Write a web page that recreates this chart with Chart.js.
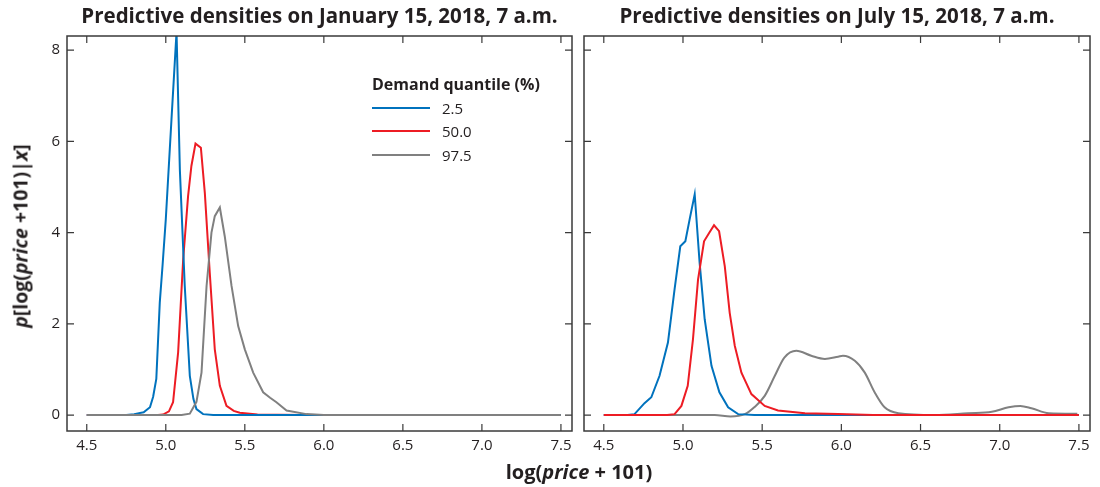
<!DOCTYPE html>
<html>
<head>
<meta charset="utf-8">
<script src="https://cdn.jsdelivr.net/npm/chart.js@4"></script>
<style>
  body { margin: 0; background: #fff; font-family: 'Open Sans', sans-serif; color: #231f20; }
  #wrap { position: relative; width: 1100px; height: 487px; overflow: hidden; }
  .box { position: absolute; top: 0; height: 465px; }
  #ylab { position: absolute; left: 20px; top: 236px; transform: translate(-50%, -50%) rotate(-90deg); white-space: nowrap; font-weight: bold; font-size: 19.5px; }
  #xlab { position: absolute; left: 579px; top: 471px; transform: translate(-50%, -50%); white-space: nowrap; font-weight: bold; font-size: 20px; }
  #legend { position: absolute; left: 372px; top: 73px; font-size: 15px; }
  #legend .ttl { font-weight: bold; font-size: 16px; margin-bottom: 1px; }
  #legend .row { display: flex; align-items: center; height: 23.5px; }
  #legend .ln { width: 58px; border-top: 2px solid; margin-right: 12px; }
</style>
</head>
<body>
<div id="wrap">
  <div class="box" style="left:0;width:580px"><canvas id="jan"></canvas></div>
  <div class="box" style="left:576px;width:524px"><canvas id="jul"></canvas></div>
  <div id="ylab"><i>p</i>[log(<i>price</i> +101)|<i>x</i>]</div>
  <div id="xlab">log(<i>price</i> + 101)</div>
  <div id="legend"></div>
</div>
<script>
'use strict';

// quantile labels and colours
let quantiles = ['2.5', '50.0', '97.5'];
let colors = ['rgb(0,114,189)', 'rgb(237,28,36)', 'rgb(128,128,128)'];
let xTicks = [4.5, 5.0, 5.5, 6.0, 6.5, 7.0, 7.5];
let yTicks = [0, 2, 4, 6, 8];

// January 15, 2018
let janBlueX = [4.5, 4.75, 4.80, 4.86, 4.9, 4.92, 4.94, 4.962, 4.98, 5.0, 5.036, 5.068, 5.089, 5.12, 5.152, 5.175, 5.194, 5.236, 5.3, 7.5];
let janBlueY = [0, 0, 0.02, 0.06, 0.17, 0.4, 0.79, 2.47, 3.3, 4.29, 6.48, 8.4, 5.38, 2.83, 0.86, 0.35, 0.13, 0.02, 0, 0];
let janRedX = [4.5, 4.95, 4.983, 5.02, 5.046, 5.078, 5.11, 5.141, 5.162, 5.188, 5.222, 5.247, 5.278, 5.31, 5.342, 5.384, 5.43, 5.468, 5.58, 5.7, 5.9, 7.5];
let janRedY = [0, 0, 0.01, 0.08, 0.28, 1.37, 3.41, 4.8, 5.46, 5.95, 5.86, 4.87, 3.13, 1.44, 0.64, 0.2, 0.09, 0.05, 0.01, 0.005, 0, 0];
let janGrayX = [4.5, 5.1, 5.152, 5.194, 5.226, 5.258, 5.289, 5.31, 5.342, 5.373, 5.416, 5.458, 5.5, 5.553, 5.616, 5.66, 5.70, 5.764, 5.89, 6.0, 7.5];
let janGrayY = [0, 0, 0.03, 0.29, 0.93, 2.83, 4.0, 4.36, 4.55, 3.92, 2.83, 1.95, 1.44, 0.93, 0.5, 0.38, 0.28, 0.1, 0.02, 0, 0];

// July 15, 2018
let julBlueX = [4.5, 4.65, 4.694, 4.757, 4.80, 4.852, 4.905, 4.947, 4.983, 5.015, 5.042, 5.074, 5.105, 5.137, 5.18, 5.23, 5.285, 5.348, 5.45, 7.5];
let julBlueY = [0, 0, 0.02, 0.26, 0.39, 0.86, 1.59, 2.76, 3.7, 3.81, 4.29, 4.84, 3.34, 2.1, 1.08, 0.5, 0.17, 0.02, 0, 0];
let julRedX = [4.5, 4.9, 4.947, 4.99, 5.03, 5.063, 5.095, 5.133, 5.165, 5.196, 5.228, 5.264, 5.295, 5.327, 5.369, 5.432, 5.516, 5.60, 5.77, 5.98, 6.2, 7.5];
let julRedY = [0, 0, 0.02, 0.2, 0.64, 1.66, 2.97, 3.81, 3.99, 4.16, 4.03, 3.26, 2.24, 1.52, 0.93, 0.46, 0.2, 0.1, 0.04, 0.02, 0, 0];
let julGrayX = [4.5, 5.2, 5.30, 5.39, 5.45, 5.516, 5.58, 5.64, 5.716, 5.81, 5.896, 5.98, 6.01, 6.085, 6.148, 6.21, 6.273, 6.36, 6.59, 6.80, 6.95, 7.056, 7.13, 7.20, 7.31, 7.49];
let julGrayY = [0, 0, -0.03, 0.02, 0.17, 0.42, 0.86, 1.26, 1.41, 1.3, 1.23, 1.28, 1.30, 1.19, 0.93, 0.5, 0.17, 0.04, 0.0, 0.04, 0.07, 0.17, 0.2, 0.15, 0.04, 0.03];

function toPoints(xs, ys){
  let pts = [];
  for(let i = 0; i < xs.length; i++){
    pts.push({x: xs[i], y: ys[i]});
  }
  return pts;
}

function makeSet(i, xs, ys, smooth, order){
  return {
    label: quantiles[i],
    data: toPoints(xs, ys),
    borderColor: colors[i],
    borderWidth: 2,
    pointRadius: 0,
    fill: false,
    tension: 0,
    cubicInterpolationMode: smooth ? 'monotone' : 'default',
    order: order
  };
}

// box round the plot and inward tick marks on all four sides
let frame = {
  id: 'frame',
  afterDraw(chart){
    let ctx = chart.ctx;
    let a = chart.chartArea;
    let sx = chart.scales.x;
    let sy = chart.scales.y;
    let tl = 7;
    ctx.save();
    ctx.strokeStyle = '#3a3a3a';
    ctx.lineWidth = 1.5;
    ctx.strokeRect(a.left, a.top, a.right - a.left, a.bottom - a.top);
    ctx.lineWidth = 1.2;
    ctx.beginPath();
    for(let v of xTicks){
      let px = sx.getPixelForValue(v);
      ctx.moveTo(px, a.bottom); ctx.lineTo(px, a.bottom - tl);
      ctx.moveTo(px, a.top); ctx.lineTo(px, a.top + tl);
    }
    for(let v of yTicks){
      let py = sy.getPixelForValue(v);
      ctx.moveTo(a.left, py); ctx.lineTo(a.left + tl, py);
      ctx.moveTo(a.right, py); ctx.lineTo(a.right - tl, py);
    }
    ctx.stroke();
    ctx.restore();
  }
};

function makeChart(id, title, sets, showY, yWidth, padRight){
  return new Chart(document.getElementById(id), {
    type: 'line',
    data: { datasets: sets },
    plugins: [frame],
    options: {
      responsive: true,
      maintainAspectRatio: false,
      animation: false,
      layout: { padding: { left: 0, right: padRight, top: 0, bottom: 0 } },
      plugins: {
        legend: { display: false },
        tooltip: { enabled: false },
        title: {
          display: true,
          fullSize: false,
          text: title,
          color: '#231f20',
          font: { family: 'Open Sans', size: 20.5, weight: 'bold', lineHeight: 1.2 },
          padding: { top: 5, bottom: 6.4 }
        }
      },
      scales: {
        x: {
          type: 'linear',
          min: 4.375,
          max: 7.57,
          grid: { display: false, drawTicks: false },
          border: { display: false },
          afterBuildTicks: s => { s.ticks = xTicks.map(v => ({ value: v })); },
          afterFit: s => { s.height = 34; },
          ticks: {
            color: '#231f20',
            padding: 6,
            maxRotation: 0,
            font: { family: 'Open Sans', size: 15 },
            callback: v => v.toFixed(1)
          }
        },
        y: {
          min: -0.35,
          max: 8.31,
          grid: { display: false, drawTicks: false },
          border: { display: false },
          afterBuildTicks: s => { s.ticks = yTicks.map(v => ({ value: v })); },
          afterFit: s => { s.width = yWidth; },
          ticks: {
            display: showY,
            color: '#231f20',
            padding: 7,
            font: { family: 'Open Sans', size: 15 }
          }
        }
      }
    }
  });
}

makeChart('jan', 'Predictive densities on January 15, 2018, 7 a.m.', [
  makeSet(0, janBlueX, janBlueY, false, 1),
  makeSet(1, janRedX, janRedY, false, 2),
  makeSet(2, janGrayX, janGrayY, false, 0)
], true, 67, 8);

makeChart('jul', 'Predictive densities on July 15, 2018, 7 a.m.', [
  makeSet(0, julBlueX, julBlueY, false, 1),
  makeSet(1, julRedX, julRedY, false, 0),
  makeSet(2, julGrayX, julGrayY, true, 2)
], false, 8, 10);

// legend inside the left panel
let legend = document.getElementById('legend');
let ttl = document.createElement('div');
ttl.className = 'ttl';
ttl.textContent = 'Demand quantile (%)';
legend.appendChild(ttl);
for(let i = 0; i < quantiles.length; i++){
  let row = document.createElement('div');
  row.className = 'row';
  let ln = document.createElement('span');
  ln.className = 'ln';
  ln.style.borderColor = colors[i];
  let txt = document.createElement('span');
  txt.textContent = quantiles[i];
  row.appendChild(ln);
  row.appendChild(txt);
  legend.appendChild(row);
}
</script>
</body>
</html>
